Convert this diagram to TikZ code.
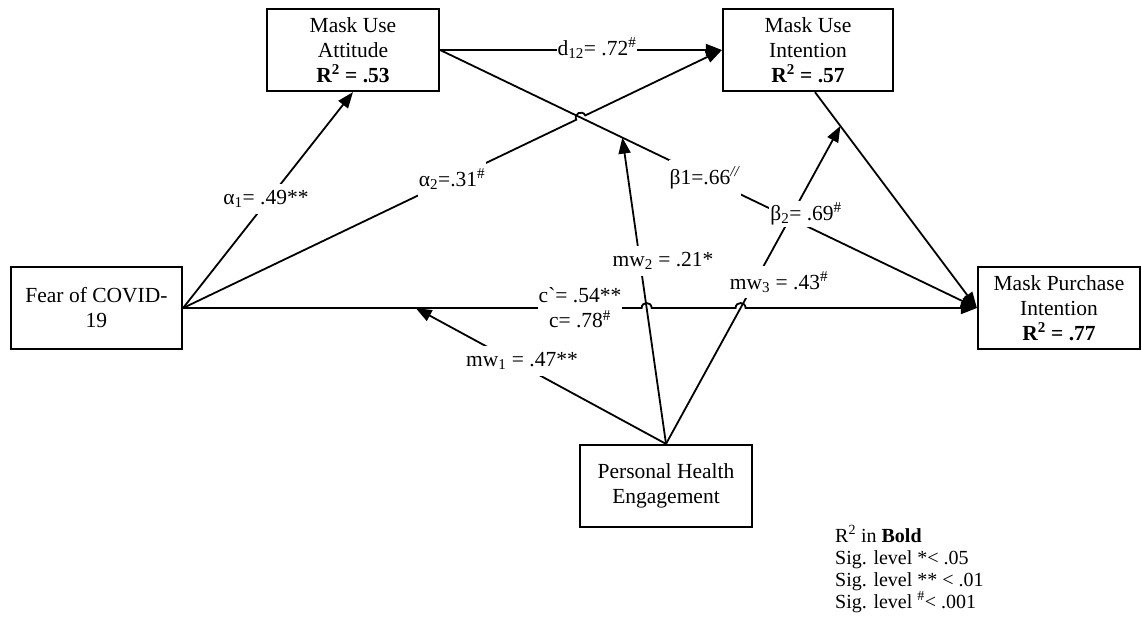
\documentclass[tikz,border=0pt]{standalone}
\usepackage{fontspec}
\setmainfont{Liberation Serif}
\usetikzlibrary{arrows.meta,calc,intersections}
\begin{document}
\begin{tikzpicture}[x=1pt,y=-1pt,
  every node/.style={font=\fontsize{21.5}{25}\selectfont},
  box/.style={draw,line width=2.2pt,minimum width=#1,minimum height=82pt,align=center,inner sep=0pt},
  conn/.style={line width=1.8pt},
  arr/.style={conn,-{Triangle[length=16pt,width=12pt]}},
  lab/.style={fill=white,inner xsep=1pt,inner ysep=2pt,align=center},
  hop/.style={bend left=90,looseness=1.7}]
\useasboundingbox (0,0) rectangle (1142,616);
% boxes
\node[box=172pt] (att) at (353,50) {Mask Use\\Attitude\\\textbf{R\textsuperscript{2} = .53}};
\node[box=170pt] (int) at (808,50) {Mask Use\\Intention\\\textbf{R\textsuperscript{2} = .57}};
\node[box=171pt] (fear) at (96.5,308) {Fear of COVID-\\19};
\node[box=162pt] (pur) at (1059,308) {Mask Purchase\\Intention\\\textbf{R\textsuperscript{2} = .77}};
\node[box=172pt] (phe) at (666,486) {Personal Health\\Engagement};
% helper coordinates
\coordinate (bs) at ($(int.south)+(7,0)$);
\coordinate (t1) at ($(fear.east)!0.293!(pur.west)$);
\coordinate (t2) at ($(att.east)!0.3395!(pur.west)$);
\coordinate (t3) at ($(bs)!0.157!(pur.west)$);
\path[name path=Lc] (fear.east) -- (pur.west);
\path[name path=Lb1] (att.east) -- (pur.west);
\path[name path=La2] (fear.east) -- (int.west);
\path[name path=Lm2] (phe.north) -- (t2);
\path[name path=Lm3] (phe.north) -- (t3);
\path[name intersections={of=Lc and Lm2,by=h1}];
\path[name intersections={of=Lc and Lm3,by=h2}];
\path[name intersections={of=Lb1 and Lm3,by=h3}];
\path[name intersections={of=La2 and Lb1,by=h4}];
% connectors
\draw[arr] (fear.east) -- (att.south);
\draw[arr] (fear.east) -- ($(h4)!5pt!(fear.east)$) to[hop] ($(h4)!5pt!(int.west)$) -- (int.west);
\draw[arr] (att.east) -- (int.west);
\draw[arr] (att.east) -- ($(h3)!5pt!(att.east)$) to[hop] ($(h3)!5pt!(pur.west)$) -- (pur.west);
\draw[arr] (bs) -- (pur.west);
\draw[arr] (fear.east) -- ($(h1)!5pt!(fear.east)$) to[hop] ($(h1)!5pt!(pur.west)$) -- ($(h2)!5pt!(fear.east)$) to[hop] ($(h2)!5pt!(pur.west)$) -- (pur.west);
\draw[arr] (phe.north) -- (t1);
\draw[arr] (phe.north) -- (t2);
\draw[arr] (phe.north) -- (t3);
% labels
\node[lab,minimum height=30pt] (la1) at (266,199) {α\textsubscript{1}= .49**};
\node[lab,minimum height=36pt] (la2) at (452,179) {α\textsubscript{2}=.31\textsuperscript{\#}};
\node[lab] (ld) at (597,48) {d\textsubscript{12}= .72\textsuperscript{\#}};
\node[lab,minimum height=36pt] (lb1) at (705,178) {β1=.66\textsuperscript{\textit{//}}};
\node[lab] (lb2) at (806,214) {β\textsubscript{2}= .69\textsuperscript{\#}};
\node[lab,inner ysep=0pt] (lc) at (580,308) {c\textasciigrave= .54**\\c= .78\textsuperscript{\#}};
\node[lab,minimum height=30pt] (lm1) at (522,361) {mw\textsubscript{1} = .47**};
\node[lab,minimum height=30pt] (lm2) at (663,261) {mw\textsubscript{2} = .21*};
\node[lab,minimum height=32pt] (lm3) at (779,282) {mw\textsubscript{3} = .43\textsuperscript{\#}};
% legend
\node[anchor=north west,align=left,inner sep=0pt,font=\fontsize{20}{22}\selectfont] (leg) at (835,525)
  {R\textsuperscript{2} in \textbf{Bold}\\Sig. level *< .05\\Sig. level ** < .01\\Sig. level \textsuperscript{\#}< .001};
\end{tikzpicture}
\end{document}
